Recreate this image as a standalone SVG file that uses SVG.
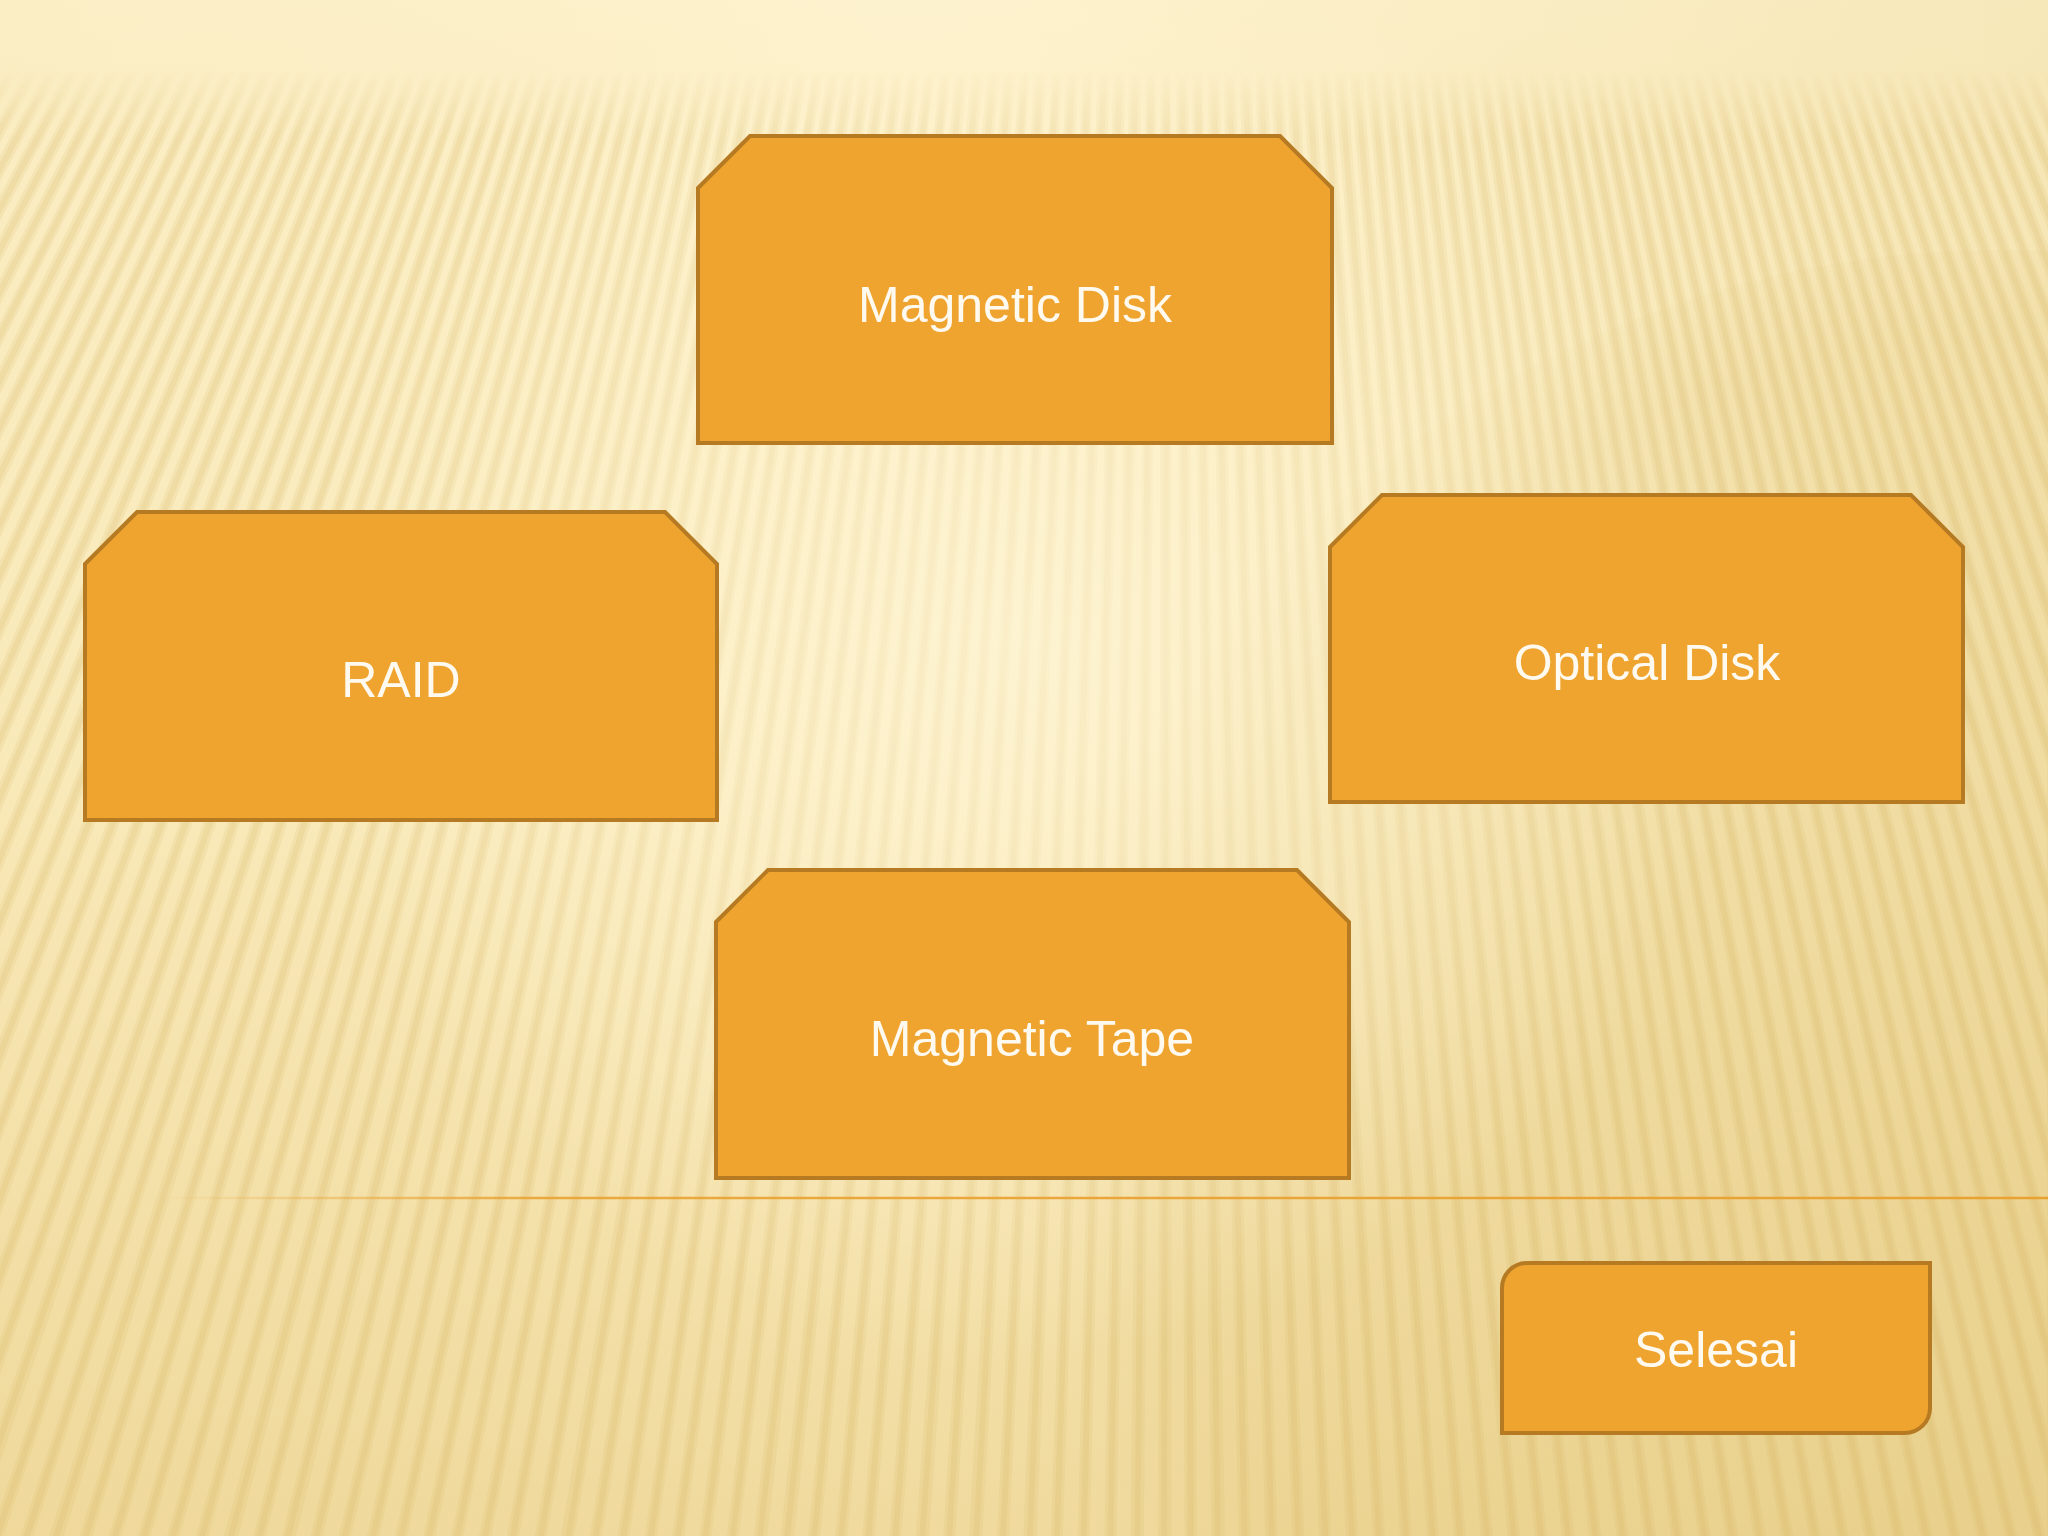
<svg xmlns="http://www.w3.org/2000/svg" width="2048" height="1536" viewBox="0 0 2048 1536">
  <defs>
    <linearGradient id="bgV" x1="0" y1="0" x2="0" y2="1">
      <stop offset="0" stop-color="#fdf2cd"/>
      <stop offset="0.06" stop-color="#fdf1ca"/>
      <stop offset="0.5" stop-color="#fbedc0"/>
      <stop offset="1" stop-color="#f0da9e"/>
    </linearGradient>
    <linearGradient id="bgH" x1="0" y1="0" x2="1" y2="0">
      <stop offset="0" stop-color="#e6c878" stop-opacity="0.10"/>
      <stop offset="0.45" stop-color="#e6c878" stop-opacity="0"/>
      <stop offset="1" stop-color="#dcbd6a" stop-opacity="0.20"/>
    </linearGradient>
    <radialGradient id="glow" cx="1020" cy="640" r="720" gradientUnits="userSpaceOnUse">
      <stop offset="0" stop-color="#fff6d8" stop-opacity="0.7"/>
      <stop offset="0.6" stop-color="#fff4d2" stop-opacity="0.35"/>
      <stop offset="1" stop-color="#fff4d2" stop-opacity="0"/>
    </radialGradient>
    <linearGradient id="fadeTop" x1="0" y1="0" x2="0" y2="1536" gradientUnits="userSpaceOnUse">
      <stop offset="0" stop-color="#000"/>
      <stop offset="0.045" stop-color="#000"/>
      <stop offset="0.09" stop-color="#fff"/>
      <stop offset="1" stop-color="#fff"/>
    </linearGradient>
    <mask id="stripeMask" maskUnits="userSpaceOnUse" x="0" y="0" width="2048" height="1536">
      <rect x="0" y="0" width="2048" height="1536" fill="url(#fadeTop)"/>
    </mask>
    <radialGradient id="ell" cx="2000" cy="1150" r="950" gradientUnits="userSpaceOnUse">
      <stop offset="0" stop-color="#d8b863" stop-opacity="0.2"/>
      <stop offset="0.86" stop-color="#d8b863" stop-opacity="0.14"/>
      <stop offset="1" stop-color="#d8b863" stop-opacity="0"/>
    </radialGradient>
    <linearGradient id="hline" x1="160" y1="0" x2="2048" y2="0" gradientUnits="userSpaceOnUse">
      <stop offset="0" stop-color="#e9a232" stop-opacity="0"/>
      <stop offset="0.2" stop-color="#e9a232" stop-opacity="0.9"/>
      <stop offset="1" stop-color="#e9a232" stop-opacity="1"/>
    </linearGradient>
    <style>
      .box { fill: #f0a430; stroke: #b67a22; stroke-width: 4; stroke-linejoin: miter; }
      .lbl { font-family: "Liberation Sans", Arial, sans-serif; font-size: 50px; fill: #fffaf0; text-anchor: middle; }
      .stripe { fill: none; stroke: #d4b159; stroke-width: 1720; }
    </style>
  </defs>

  <!-- background -->
  <rect x="0" y="0" width="2048" height="1536" fill="url(#bgV)"/>
  <rect x="0" y="0" width="2048" height="1536" fill="url(#bgH)"/>
  <ellipse cx="2000" cy="1150" rx="950" ry="900" fill="url(#ell)"/>
  <g mask="url(#stripeMask)">
    <circle class="stripe" cx="1170" cy="-2000" r="2900" stroke-opacity="0.13" stroke-dasharray="12 10"/>
    <circle class="stripe" cx="1170" cy="-2000" r="2900" stroke-opacity="0.15" stroke-dasharray="6 16" stroke-dashoffset="-3"/>
  </g>
  <rect x="0" y="0" width="2048" height="1536" fill="url(#glow)"/>
  <line x1="160" y1="1198" x2="2048" y2="1198" stroke="url(#hline)" stroke-width="2.5"/>

  <g id="connectors"></g>

  <g id="node-magnetic-disk">
    <polygon class="box" points="698,188 750,136 1280,136 1332,188 1332,443 698,443"/>
    <text class="lbl" x="1015" y="322">Magnetic Disk</text>
  </g>
  <g id="node-raid">
    <polygon class="box" points="85,564 137,512 665,512 717,564 717,820 85,820"/>
    <text class="lbl" x="401" y="697">RAID</text>
  </g>
  <g id="node-optical-disk">
    <polygon class="box" points="1330,547 1382,495 1911,495 1963,547 1963,802 1330,802"/>
    <text class="lbl" x="1647" y="680">Optical Disk</text>
  </g>
  <g id="node-magnetic-tape">
    <polygon class="box" points="716,922 768,870 1297,870 1349,922 1349,1178 716,1178"/>
    <text class="lbl" x="1032" y="1056">Magnetic Tape</text>
  </g>
  <g id="node-selesai">
    <path class="box" d="M1527,1263 H1930 V1408 A25,25 0 0 1 1905,1433 H1502 V1288 A25,25 0 0 1 1527,1263 Z"/>
    <text class="lbl" x="1716" y="1367">Selesai</text>
  </g>
</svg>
